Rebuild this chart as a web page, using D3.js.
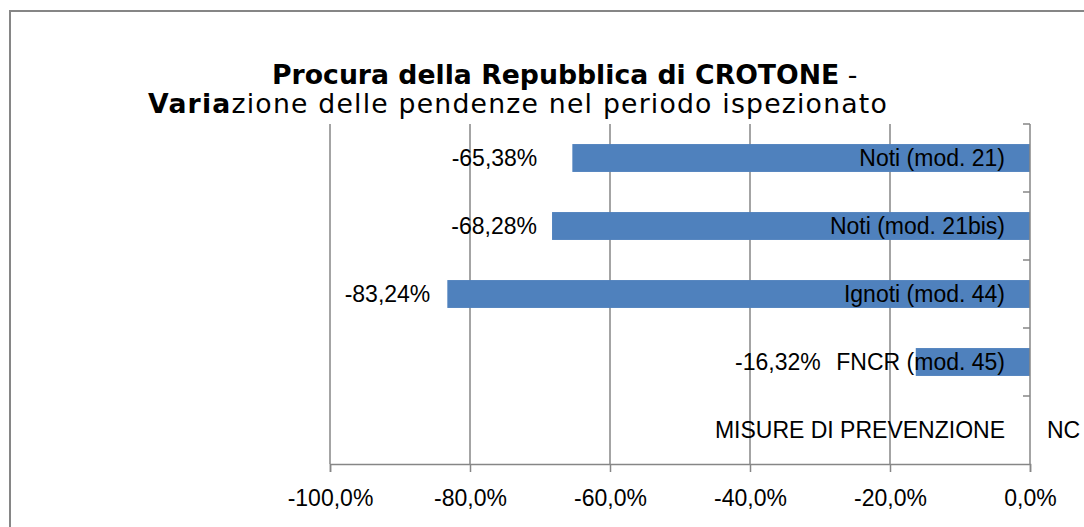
<!DOCTYPE html>
<html>
<head>
<meta charset="utf-8">
<script src="https://cdn.jsdelivr.net/npm/d3@7"></script>
<style>
  body { margin: 0; background: #fff; }
  svg { display: block; }
</style>
</head>
<body>
<div id="chart"></div>
<script>
var w = 1084,
    h = 527;

// data
var categories = ["Noti (mod. 21)", "Noti (mod. 21bis)", "Ignoti (mod. 44)", "FNCR (mod. 45)", "MISURE DI PREVENZIONE"];
var values = [-65.38, -68.28, -83.24, -16.32, null];
var valueLabels = ["-65,38%", "-68,28%", "-83,24%", "-16,32%", "NC"];
var xTicks = [-100, -80, -60, -40, -20, 0];

// the data labels were moved by hand in the original, gap from bar end
var labelGap = [35, 15, 17, 95, -17];

var margin = {top: 124, right: 54, bottom: 63, left: 330};

var svg = d3.select("#chart")
    .append("svg")
    .attr("width", w)
    .attr("height", h);

// chart border
svg.append("rect")
    .attr("x", 10).attr("y", 11)
    .attr("width", w + 20).attr("height", h + 20)
    .attr("fill", "none")
    .attr("stroke", "#868686")
    .attr("stroke-width", 2);

// title
var title = svg.append("text")
    .attr("font-family", "'DejaVu Sans', Verdana, sans-serif")
    .attr("font-size", 26.7)
    .attr("fill", "#000");
var t1 = title.append("tspan").attr("x", 272).attr("y", 84);
t1.append("tspan").attr("font-weight", "bold").text("Procura della Repubblica di CROTONE");
t1.append("tspan").text(" -");
var t2 = title.append("tspan").attr("x", 148).attr("y", 113).attr("letter-spacing", 1.2);
t2.append("tspan").attr("font-weight", "bold").text("Varia");
t2.append("tspan").text("zione delle pendenze nel periodo ispezionato");

var x = d3.scaleLinear()
    .domain([-100, 0])
    .range([margin.left, w - margin.right]);

var y = d3.scaleBand()
    .domain(categories)
    .range([margin.top, h - margin.bottom])
    .paddingInner(0.59)
    .paddingOuter(0.295);

var yBound = d3.scaleLinear()
    .domain([0, categories.length])
    .range([margin.top, h - margin.bottom]);

var g = svg.append("g");

// vertical gridlines
g.selectAll("line.grid")
    .data(xTicks.slice(0, -1))
    .enter()
    .append("line")
    .attr("class", "grid")
    .attr("x1", function(d) { return x(d); })
    .attr("x2", function(d) { return x(d); })
    .attr("y1", margin.top)
    .attr("y2", h - margin.bottom)
    .attr("stroke", "#868686")
    .attr("stroke-width", 1.5);

// bars
g.selectAll("rect.bar")
    .data(values)
    .enter()
    .filter(function(d) { return d !== null; })
    .append("rect")
    .attr("class", "bar")
    .attr("x", function(d) { return x(d); })
    .attr("width", function(d) { return x(0) - x(d); })
    .attr("y", function(d) { return y(categories[values.indexOf(d)]); })
    .attr("height", y.bandwidth())
    .attr("fill", "#4F81BD");

// x axis
var xAxis = d3.axisBottom(x)
    .tickValues(xTicks)
    .tickSize(8)
    .tickPadding(18)
    .tickFormat(function(d) { return d3.format(".1f")(d).replace(".", ",").replace("\u2212", "-") + "%"; });

var xg = svg.append("g")
    .attr("transform", "translate(0," + (h - margin.bottom) + ")")
    .call(xAxis);
xg.select(".domain").attr("stroke", "#868686").attr("stroke-width", 1.5);
xg.selectAll(".tick line").attr("stroke", "#868686").attr("stroke-width", 1.5);
xg.selectAll(".tick text")
    .attr("font-family", "'Liberation Sans', Arial, sans-serif")
    .attr("font-size", 23)
    .attr("fill", "#000");

// category axis at value 0
var yg = svg.append("g");
yg.append("line")
    .attr("x1", x(0)).attr("x2", x(0))
    .attr("y1", margin.top).attr("y2", h - margin.bottom)
    .attr("stroke", "#868686")
    .attr("stroke-width", 1.5);
yg.selectAll("line.tk")
    .data(d3.range(categories.length))
    .enter()
    .append("line")
    .attr("class", "tk")
    .attr("x1", x(0) - 7).attr("x2", x(0))
    .attr("y1", function(d) { return yBound(d); })
    .attr("y2", function(d) { return yBound(d); })
    .attr("stroke", "#868686")
    .attr("stroke-width", 1.5);

// category labels
yg.selectAll("text.cat")
    .data(categories)
    .enter()
    .append("text")
    .attr("class", "cat")
    .attr("x", x(0) - 25)
    .attr("y", function(d) { return y(d) + y.bandwidth() / 2; })
    .attr("dy", "0.35em")
    .attr("text-anchor", "end")
    .attr("font-family", "'Liberation Sans', Arial, sans-serif")
    .attr("font-size", 23)
    .attr("fill", "#000")
    .text(function(d) { return d; });

// value labels
g.selectAll("text.val")
    .data(valueLabels)
    .enter()
    .append("text")
    .attr("class", "val")
    .attr("x", function(d, i) { return x(values[i] === null ? 0 : values[i]) - labelGap[i]; })
    .attr("y", function(d, i) { return y(categories[i]) + y.bandwidth() / 2; })
    .attr("dy", "0.35em")
    .attr("text-anchor", function(d, i) { return values[i] === null ? "start" : "end"; })
    .attr("font-family", "'Liberation Sans', Arial, sans-serif")
    .attr("font-size", 23)
    .attr("fill", "#000")
    .text(function(d) { return d; });
</script>
</body>
</html>
